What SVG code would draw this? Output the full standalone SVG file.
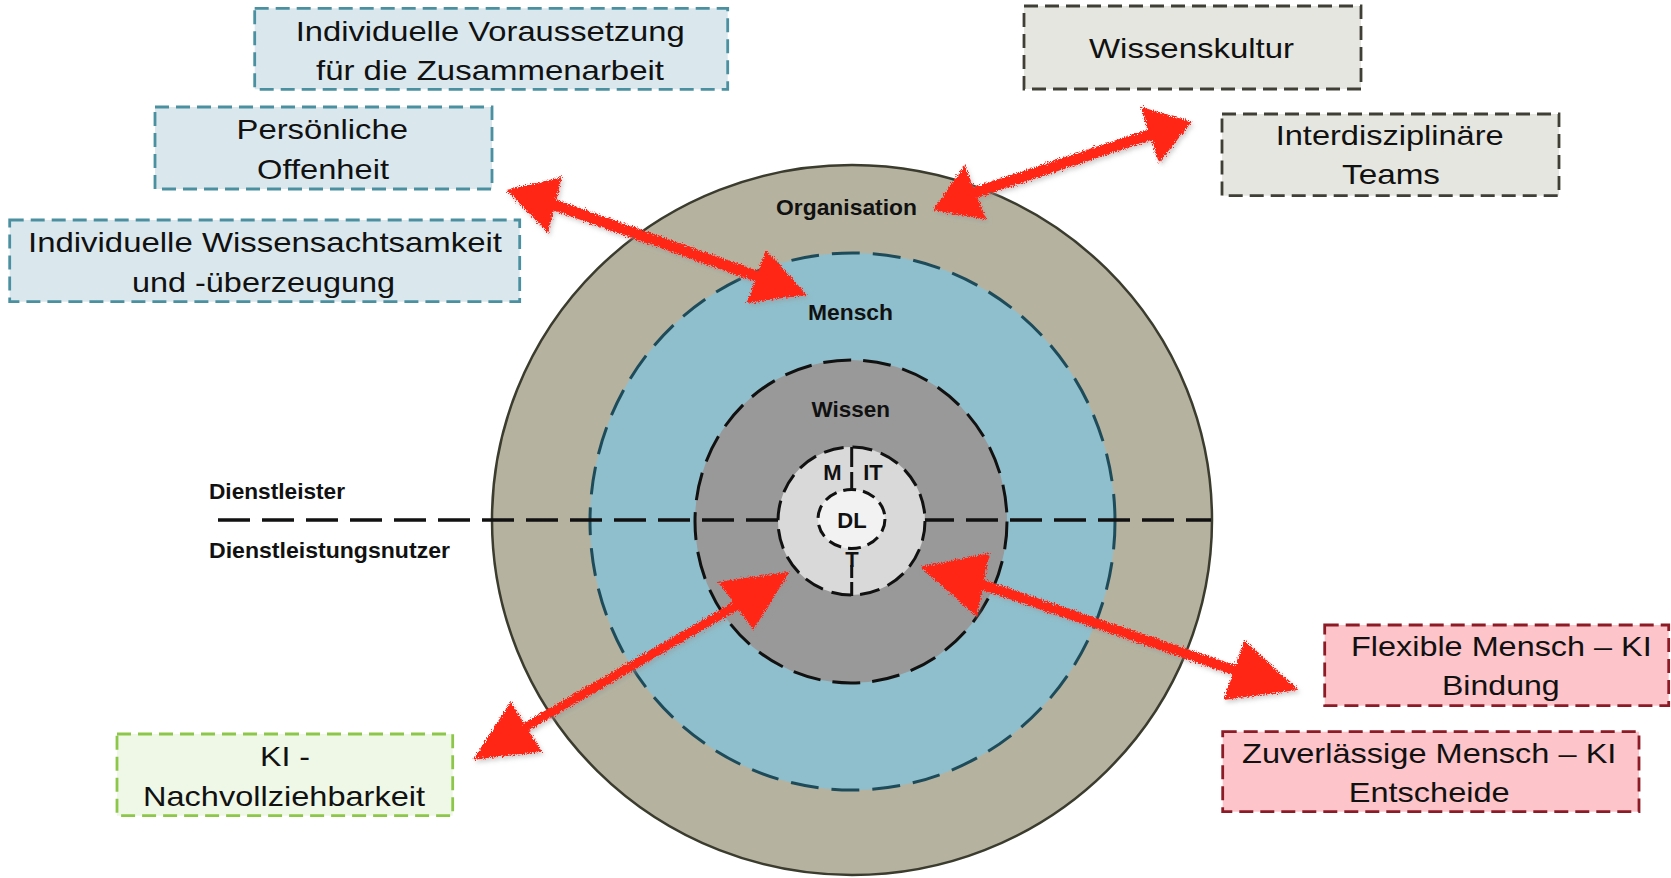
<svg xmlns="http://www.w3.org/2000/svg" width="1671" height="878" viewBox="0 0 1671 878">
<defs>
<style>
.bt{font-family:"Liberation Sans",Arial,sans-serif;font-size:28px;fill:#111}
.lb{font-family:"Liberation Sans",Arial,sans-serif;font-size:22px;font-weight:bold;fill:#111}
.blue{fill:#DAE8EE;stroke:#4A90A0;stroke-width:2.8;stroke-dasharray:14 7}
.gray{fill:#E6E6E0;stroke:#3F3F36;stroke-width:2.8;stroke-dasharray:14 7}
.green{fill:#EFF7E7;stroke:#8DC74A;stroke-width:2.8;stroke-dasharray:14 7}
.pink{fill:#FDC4CA;stroke:#8C1B26;stroke-width:2.8;stroke-dasharray:14 7}
.arr{fill:#FF2618}
.sh{stroke:#FF2618;stroke-linecap:round;fill:none}
.vl{stroke:#111;stroke-width:3}
</style>
<filter id="rough" x="-10%" y="-10%" width="120%" height="130%">
<feTurbulence type="fractalNoise" baseFrequency="0.9" numOctaves="2" seed="3" result="n"/>
<feDisplacementMap in="SourceGraphic" in2="n" scale="7" xChannelSelector="R" yChannelSelector="G" result="d"/>
<feGaussianBlur in="d" stdDeviation="2" result="b"/>
<feOffset in="b" dx="2" dy="3" result="o"/>
<feColorMatrix in="o" type="matrix" values="0 0 0 0 0.3  0 0 0 0 0.3  0 0 0 0 0.3  0 0 0 0.45 0" result="s"/>
<feMerge><feMergeNode in="s"/><feMergeNode in="d"/></feMerge>
</filter>
</defs>
<rect width="1671" height="878" fill="#fff"/>

<g id="circle-organisation">
<ellipse cx="852" cy="520" rx="360" ry="355" fill="#B5B3A0" stroke="#3B3B2E" stroke-width="2.5"/>
<text class="lb" x="776" y="215" textLength="141" lengthAdjust="spacingAndGlyphs">Organisation</text>
</g>
<g id="circle-mensch">
<ellipse cx="852.5" cy="521.5" rx="262.5" ry="268.5" fill="#8FBFCC" stroke="#1E4B5A" stroke-width="3" stroke-dasharray="28 13"/>
<text class="lb" x="808" y="320" textLength="85" lengthAdjust="spacingAndGlyphs">Mensch</text>
</g>
<g id="circle-wissen">
<ellipse cx="851" cy="521.5" rx="156" ry="161.5" fill="#999999" stroke="#111" stroke-width="3" stroke-dasharray="28 12"/>
<text class="lb" x="811.5" y="416.5" textLength="78.5" lengthAdjust="spacingAndGlyphs">Wissen</text>
</g>

<g id="divider">
<line x1="218" y1="520" x2="1211" y2="520" stroke="#111" stroke-width="3.5" stroke-dasharray="32 12"/>
<text class="lb" x="209" y="499" textLength="136" lengthAdjust="spacingAndGlyphs">Dienstleister</text>
<text class="lb" x="209" y="558" textLength="241" lengthAdjust="spacingAndGlyphs">Dienstleistungsnutzer</text>
</g>

<g id="circle-core">
<ellipse cx="851.5" cy="521" rx="73.5" ry="74" fill="#D9D9D9" stroke="#111" stroke-width="3" stroke-dasharray="20 9"/>
<line class="vl" x1="851.7" y1="447" x2="851.7" y2="467"/>
<line class="vl" x1="851.7" y1="472" x2="851.7" y2="491"/>
<line class="vl" x1="851.7" y1="565" x2="851.7" y2="578"/>
<line class="vl" x1="851.7" y1="582" x2="851.7" y2="596"/>
<text class="lb" x="832.5" y="480" text-anchor="middle" font-size="21">M</text>
<text class="lb" x="873" y="480" text-anchor="middle" font-size="21">IT</text>
<text class="lb" x="852" y="567" text-anchor="middle" font-size="21">T</text>
</g>
<g id="circle-dl">
<ellipse cx="851.5" cy="519" rx="33.5" ry="29.5" fill="#F2F2F2" stroke="#111" stroke-width="3" stroke-dasharray="13 7"/>
<text class="lb" x="852" y="528" text-anchor="middle" font-size="21">DL</text>
</g>

<g id="box-voraussetzung">
<rect class="blue" x="254.7" y="8.3" width="473" height="81"/>
<text class="bt" x="295.7" y="41" textLength="389" lengthAdjust="spacingAndGlyphs">Individuelle Voraussetzung</text>
<text class="bt" x="316" y="80" textLength="348" lengthAdjust="spacingAndGlyphs">für die Zusammenarbeit</text>
</g>
<g id="box-offenheit">
<rect class="blue" x="155" y="107" width="337" height="82"/>
<text class="bt" x="236.5" y="139.3" textLength="171.5" lengthAdjust="spacingAndGlyphs">Persönliche</text>
<text class="bt" x="257" y="179" textLength="132" lengthAdjust="spacingAndGlyphs">Offenheit</text>
</g>
<g id="box-wissensachtsamkeit">
<rect class="blue" x="9.7" y="220" width="510" height="81.7"/>
<text class="bt" x="28" y="252.3" textLength="474" lengthAdjust="spacingAndGlyphs">Individuelle Wissensachtsamkeit</text>
<text class="bt" x="132" y="291.7" textLength="263" lengthAdjust="spacingAndGlyphs">und -überzeugung</text>
</g>
<g id="box-wissenskultur">
<rect class="gray" x="1024" y="6" width="337" height="83"/>
<text class="bt" x="1089" y="58.3" textLength="205" lengthAdjust="spacingAndGlyphs">Wissenskultur</text>
</g>
<g id="box-teams">
<rect class="gray" x="1222" y="114" width="337" height="81.7"/>
<text class="bt" x="1275.7" y="145" textLength="228" lengthAdjust="spacingAndGlyphs">Interdisziplinäre</text>
<text class="bt" x="1342" y="184.3" textLength="98" lengthAdjust="spacingAndGlyphs">Teams</text>
</g>
<g id="box-ki">
<rect class="green" x="117" y="734" width="335.7" height="81.7"/>
<text class="bt" x="260" y="766" textLength="50" lengthAdjust="spacingAndGlyphs">KI -</text>
<text class="bt" x="143" y="806" textLength="282" lengthAdjust="spacingAndGlyphs">Nachvollziehbarkeit</text>
</g>
<g id="box-flexible">
<rect class="pink" x="1324.7" y="625" width="344" height="80.7"/>
<text class="bt" x="1351" y="655.7" textLength="300.7" lengthAdjust="spacingAndGlyphs">Flexible Mensch – KI</text>
<text class="bt" x="1442" y="695" textLength="117.6" lengthAdjust="spacingAndGlyphs">Bindung</text>
</g>
<g id="box-zuverlaessige">
<rect class="pink" x="1222.7" y="731.7" width="416.3" height="80"/>
<text class="bt" x="1242" y="762.7" textLength="374.4" lengthAdjust="spacingAndGlyphs">Zuverlässige Mensch – KI</text>
<text class="bt" x="1348.7" y="802.3" textLength="161" lengthAdjust="spacingAndGlyphs">Entscheide</text>
</g>

<g id="connectors" filter="url(#rough)">
<g id="arrow-offenheit-mensch">
<line class="sh" x1="555" y1="205" x2="756" y2="276" stroke-width="11"/>
<polygon class="arr" points="506.5,190 562,177 548,233"/>
<polygon class="arr" points="807,295 766,250 746.6,303"/>
</g>
<g id="arrow-organisation-kultur">
<line class="sh" x1="975.6" y1="192.5" x2="1149.7" y2="134.8" stroke-width="11"/>
<polygon class="arr" points="933,210 964.7,165 986.5,220"/>
<polygon class="arr" points="1191.7,121.7 1140.5,106.7 1159,163"/>
</g>
<g id="arrow-core-flexible">
<line class="sh" x1="983.5" y1="585" x2="1233.8" y2="670" stroke-width="10"/>
<polygon class="arr" points="920,566.7 990,553 977,617"/>
<polygon class="arr" points="1298.5,690 1243.8,640 1223.8,700"/>
</g>
<g id="arrow-core-ki">
<line class="sh" x1="735.8" y1="606" x2="526.4" y2="726.7" stroke-width="9"/>
<polygon class="arr" points="790,571.7 718.3,581.7 753.3,630"/>
<polygon class="arr" points="472.8,760 510.7,701.7 542,751.7"/>
</g>
</g>
</svg>
